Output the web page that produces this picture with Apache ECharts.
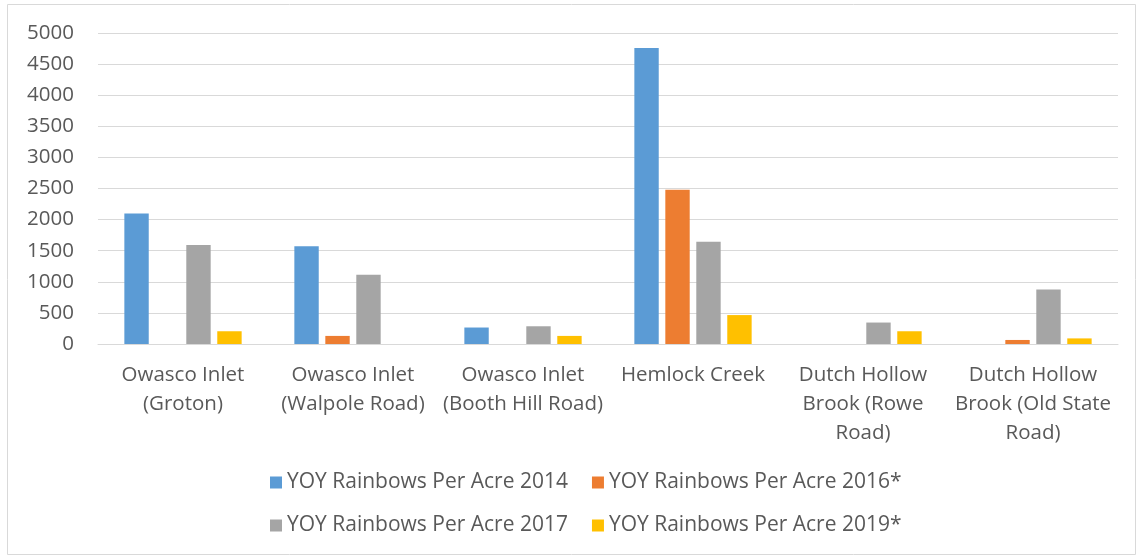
<!DOCTYPE html>
<html><head><meta charset="utf-8">
<script src="https://cdn.jsdelivr.net/npm/echarts@6/dist/echarts.min.js"></script>
<style>html,body{margin:0;padding:0;background:#fff}#c{width:1143px;height:558px}</style>
</head><body><div id="c"></div>
<script>
const categories = ["Owasco Inlet\n(Groton)", "Owasco Inlet\n(Walpole Road)", "Owasco Inlet\n(Booth Hill Road)", "Hemlock Creek", "Dutch Hollow\nBrook (Rowe\nRoad)", "Dutch Hollow\nBrook (Old State\nRoad)"];
const seriesNames = ["YOY Rainbows Per Acre 2014", "YOY Rainbows Per Acre 2016*", "YOY Rainbows Per Acre 2017", "YOY Rainbows Per Acre 2019*"];
const v2014 = [2100, 1570, 265, 4760, null, null];
const v2016 = [null, 130, null, 2480, null, 65];
const v2017 = [1590, 1115, 285, 1645, 345, 875];
const v2019 = [205, null, 130, 465, 205, 90];
const colors = ["#5b9bd5", "#ed7d31", "#a5a5a5", "#ffc000"];
const yTicks = [0, 5000, 500];

const chart = echarts.init(document.getElementById('c'), null, {renderer: 'canvas'});
const font = "'Open Sans', 'Noto Sans', sans-serif";
const vals = [v2014, v2016, v2017, v2019];
const legendText = {fontSize: 21, color: '#595959', fontFamily: font};
chart.setOption({
  animation: false,
  textStyle: {fontFamily: font},
  graphic: [{type: 'rect', shape: {x: 7.5, y: 4.5, width: 1128, height: 550}, style: {fill: 'none', stroke: '#d9d9d9', lineWidth: 1}}],
  grid: {left: 98, right: 25, top: 33, bottom: 214},
  legend: [
    {data: seriesNames.slice(0, 2), left: 270, top: 472, padding: 0, itemWidth: 12, itemHeight: 12, itemGap: 24, icon: 'rect', textStyle: legendText},
    {data: seriesNames.slice(2, 4), left: 270, top: 515, padding: 0, itemWidth: 12, itemHeight: 12, itemGap: 24, icon: 'rect', textStyle: legendText}
  ],
  xAxis: {
    type: 'category', data: categories,
    axisLine: {lineStyle: {color: '#d9d9d9', width: 1}},
    axisTick: {show: false},
    axisLabel: {interval: 0, fontSize: 20.5, color: '#595959', lineHeight: 29, margin: 17, fontFamily: font}
  },
  yAxis: {
    type: 'value', min: yTicks[0], max: yTicks[1], interval: yTicks[2],
    axisLine: {show: false}, axisTick: {show: false},
    splitLine: {lineStyle: {color: '#d9d9d9', width: 1}},
    axisLabel: {fontSize: 20.5, color: '#595959', margin: 24, fontFamily: font, formatter: v => String(v)}
  },
  series: seriesNames.map((n, i) => ({
    name: n, type: 'bar', data: vals[i], barGap: '27%', barCategoryGap: '31%',
    itemStyle: {color: colors[i]}
  }))
});
</script></body></html>
